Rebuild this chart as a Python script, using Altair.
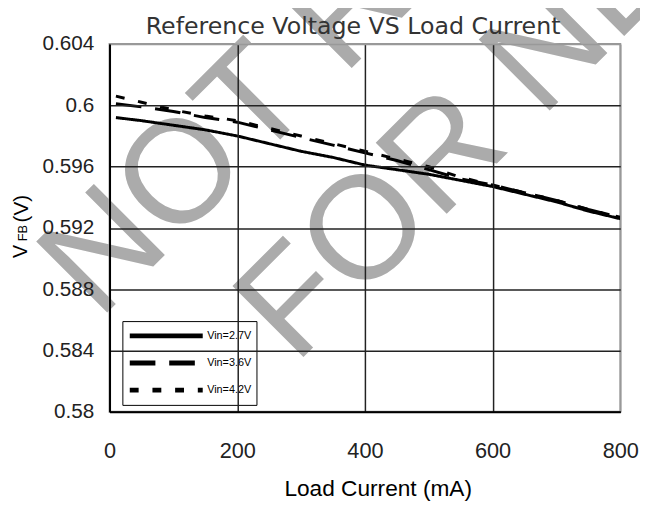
import altair as alt
import pandas as pd

# ---- data ----
load_ma = [10, 50, 100, 150, 200, 250, 300, 350, 400, 450, 500, 550, 600, 650, 700, 750, 800]
v_27 = [0.5992, 0.5990, 0.5987, 0.5984, 0.5980, 0.5975, 0.5970, 0.5966, 0.5961, 0.5958,
        0.5955, 0.5951, 0.5947, 0.5942, 0.5937, 0.5931, 0.5926]
v_36 = [0.6001, 0.5999, 0.5996, 0.5992, 0.5989, 0.5984, 0.5979, 0.5974, 0.5969, 0.5964,
        0.5958, 0.5952, 0.5948, 0.5943, 0.5938, 0.5932, 0.5927]
v_42 = [0.6006, 0.6002, 0.5997, 0.5993, 0.5990, 0.5985, 0.5980, 0.5975, 0.5970, 0.5965,
        0.5960, 0.5953, 0.5948, 0.5943, 0.5938, 0.5932, 0.5927]
series_names = ["Vin=2.7V", "Vin=3.6V", "Vin=4.2V"]
series_dash = [[1, 0], [26, 14], [9, 14]]
x_ticks = [0, 200, 400, 600, 800]
y_ticks = [0.58, 0.584, 0.588, 0.592, 0.596, 0.6, 0.604]
watermark_lines = ["NOT RECOMMENDED", "FOR NEW DESIGN"]
title_text = "Reference Voltage VS Load Current"
x_title = "Load Current (mA)"
y_title_parts = ["V", "FB", "(V)"]

rows = []
for name, vals in zip(series_names, [v_27, v_36, v_42]):
    for i, v in zip(load_ma, vals):
        rows.append({"I": i, "V": v, "series": name})
df = pd.DataFrame(rows)

W, H = 518, 373

x_axis = alt.Axis(
    values=x_ticks, ticks=False, tickSize=0, labelFlush=False,
    labelFont="Liberation Sans", labelFontSize=22, labelColor="#222",
    labelPadding=46, labelBaseline="alphabetic",
    domainColor="black", domainWidth=2,
    gridColor={"condition": {"test": "datum.value >= 799", "value": "#999"}, "value": "#222"},
    gridWidth=1.5,
    title=x_title, titleFont="Liberation Sans", titleFontSize=23, titleFontWeight="normal",
    titleColor="black", titleX=272, titleY=85, titleBaseline="alphabetic", titleAlign="center",
    zindex=1,
)
y_axis = alt.Axis(
    values=y_ticks, format="~g", ticks=False, tickSize=0, labelFlush=False,
    labelFont="Liberation Sans", labelFontSize=21, labelColor="#222",
    labelPadding=16, labelBaseline="middle",
    domainColor="black", domainWidth=2,
    gridColor={"condition": {"test": "datum.value >= 0.6039", "value": "#999"}, "value": "#222"},
    gridWidth=1.5, title=None, zindex=1,
)

lines = alt.Chart(df).mark_line(strokeWidth=3, color="black", strokeCap="butt").encode(
    x=alt.X("I:Q", scale=alt.Scale(domain=[0, 800], nice=False), axis=x_axis),
    y=alt.Y("V:Q", scale=alt.Scale(domain=[0.58, 0.604], nice=False, zero=False), axis=y_axis),
    strokeDash=alt.StrokeDash(
        "series:N",
        scale=alt.Scale(domain=series_names, range=series_dash),
        legend=alt.Legend(
            title=None, orient="none", legendX=13, legendY=281,
            symbolType="stroke", symbolSize=5476, symbolStrokeWidth=5,
            symbolStrokeColor="black", clipHeight=20, rowPadding=7.5, padding=5,
            labelFont="Liberation Sans", labelFontSize=11, labelColor="black", labelOffset=2,
            strokeColor="black", fillColor="white",
        ),
    ),
)

def txt(text, x, y, size, angle, color="black", font="Liberation Sans", align="left"):
    return alt.Chart(pd.DataFrame({"t": [text]})).mark_text(
        font=font, fontSize=size, color=color, angle=angle,
        align=align, baseline="alphabetic",
    ).encode(text="t:N", x=alt.value(x), y=alt.value(y))

chart = alt.layer(
    txt(watermark_lines[0], -11, 281, 148, 315, color="#ababab"),
    txt(watermark_lines[1], 188, 326, 148, 315, color="#ababab"),
    lines,
    txt(y_title_parts[0], -84, 217, 20, 270),
    txt(y_title_parts[1], -84, 200, 13, 270),
    txt(y_title_parts[2], -83, 181, 21, 270),
    txt(title_text, 247, -10, 24, 0, color="#333", font="DejaVu Sans", align="center"),
).properties(
    width=W, height=H,
    autosize=alt.AutoSizeParams(type="none"),
    padding={"left": 103, "top": 33, "right": 20, "bottom": 92},
).configure_view(stroke="#999", strokeWidth=2)

chart.save("out.html", embed_options={"renderer": "svg", "actions": False})
